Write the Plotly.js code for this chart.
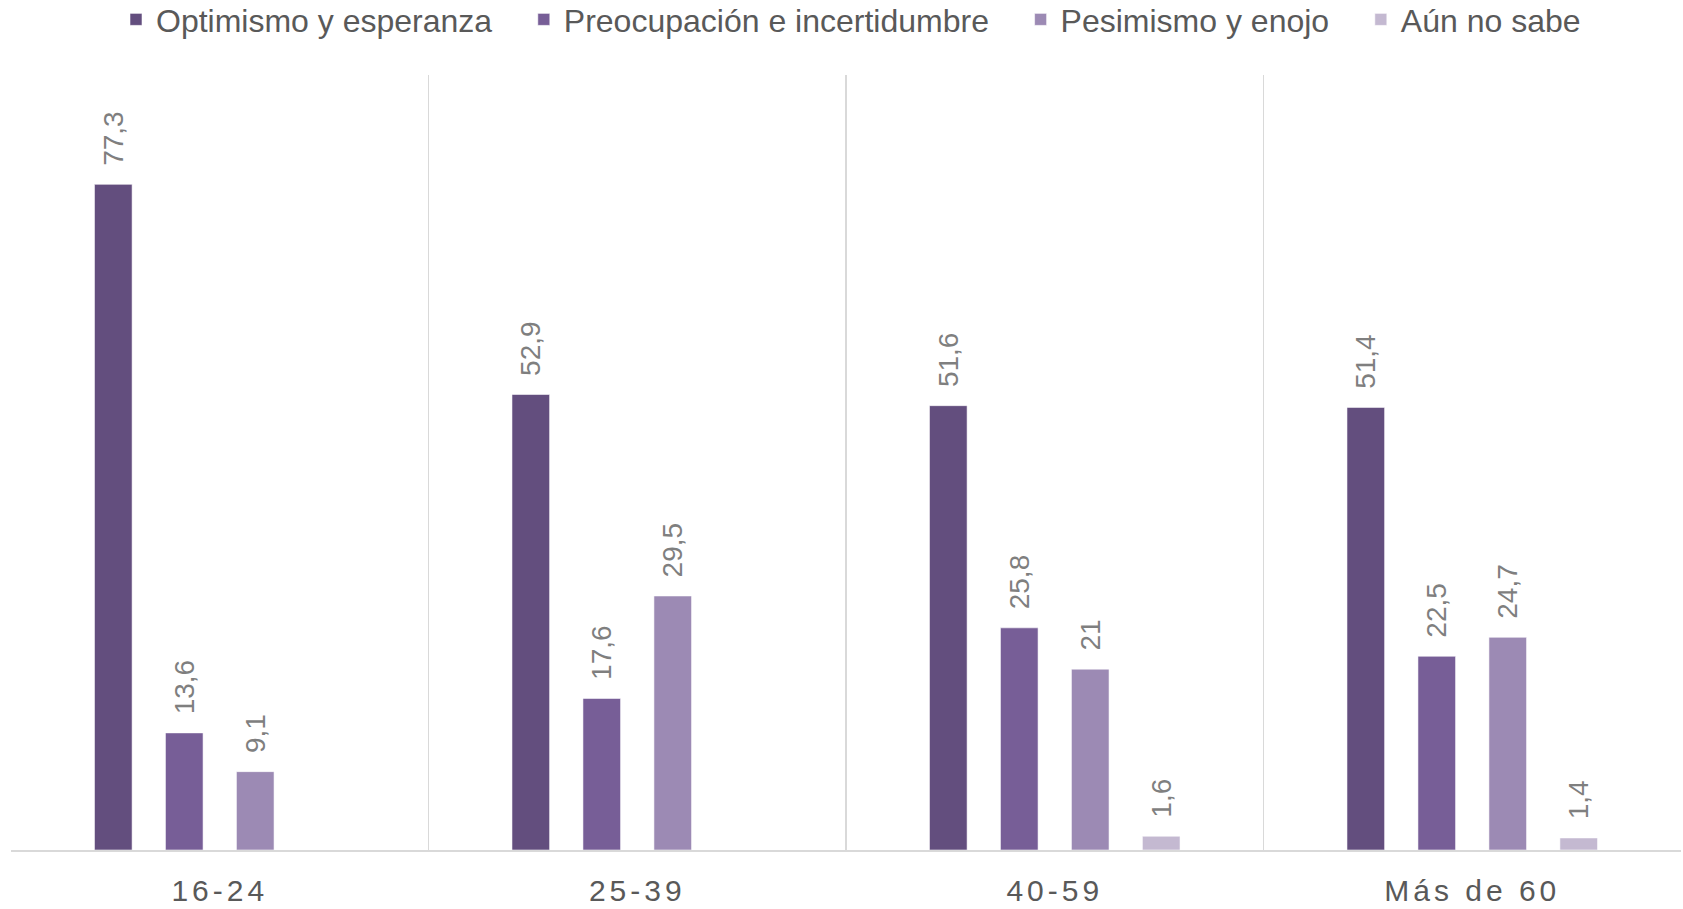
<!DOCTYPE html>
<html>
<head>
<meta charset="utf-8">
<script src="https://cdn.plot.ly/plotly-3.0.1.min.js"></script>
<style>
html,body{margin:0;padding:0;background:#fff;}
#chart{width:1683px;height:909px;}
.xtick text{letter-spacing:4px;}
</style>
</head>
<body>
<div id="chart"></div>
<script>
const categories = ["16-24", "25-39", "40-59", "Más de 60"];
const seriesNames = ["Optimismo y esperanza", "Preocupación e incertidumbre", "Pesimismo y enojo", "Aún no sabe"];
const optimismo = [77.3, 52.9, 51.6, 51.4];
const preocupacion = [13.6, 17.6, 25.8, 22.5];
const pesimismo = [9.1, 29.5, 21, 24.7];
const noSabe = [null, null, 1.6, 1.4];
const colors = ["#634E7E", "#775E97", "#9C8AB4", "#C4B9D1"];

const allSeries = [optimismo, preocupacion, pesimismo, noSabe];
const fmt = v => (v === null ? "" : "\u00a0\u00a0" + String(v).replace(".", ","));
const pad = "\u00a0\u00a0\u00a0";

const traces = allSeries.map((vals, i) => ({
  type: "bar",
  name: seriesNames[i] + (i < allSeries.length - 1 ? pad : ""),
  x: categories,
  y: vals,
  text: vals.map(fmt),
  textposition: "outside",
  textangle: -90,
  constraintext: "none",
  cliponaxis: false,
  textfont: {family: "Liberation Sans, Arial, sans-serif", size: 28, color: "#7F7F7F"},
  marker: {color: colors[i], line: {color: "rgba(255,255,255,0.55)", width: 1}},
  hoverinfo: "skip"
}));

const layout = {
  width: 1683,
  height: 909,
  paper_bgcolor: "#ffffff",
  plot_bgcolor: "#ffffff",
  margin: {l: 11, r: 2, t: 75, b: 59, pad: 0, autoexpand: false},
  font: {family: "Liberation Sans, Arial, sans-serif", color: "#595959"},
  barmode: "group",
  bargap: 0.32,
  bargroupgap: 0.47,
  showlegend: true,
  legend: {
    orientation: "h",
    x: 0.503, xanchor: "center",
    y: 1.107, yanchor: "top",
    font: {size: 32, color: "#595959"},
    itemwidth: 30,
    tracegroupgap: 0,
    traceorder: "normal",
    bgcolor: "rgba(0,0,0,0)"
  },
  xaxis: {
    type: "category",
    tickson: "boundaries",
    showgrid: true,
    gridcolor: "#D9D9D9",
    gridwidth: 1.5,
    showline: true,
    linecolor: "#D9D9D9",
    linewidth: 2,
    ticks: "",
    ticklabelstandoff: 13,
    tickfont: {size: 30, color: "#595959"},
    range: [-0.5, 3.5],
    fixedrange: true
  },
  yaxis: {
    range: [0, 90],
    visible: false,
    showgrid: false,
    zeroline: false,
    fixedrange: true
  }
};

Plotly.newPlot("chart", traces, layout, {displayModeBar: false, staticPlot: true});
</script>
</body>
</html>
